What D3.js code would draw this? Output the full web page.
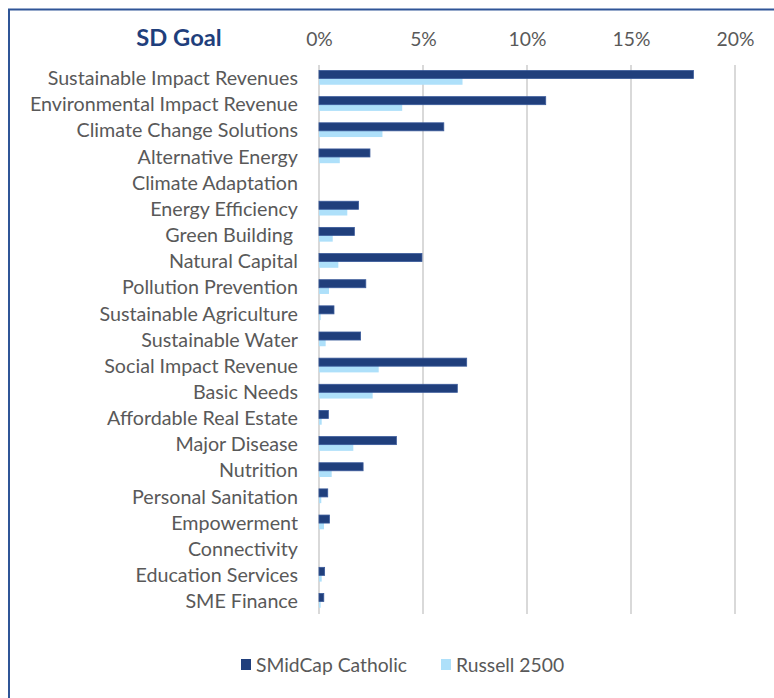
<!DOCTYPE html>
<html>
<head>
<meta charset="utf-8">
<script src="https://cdn.jsdelivr.net/npm/d3@7"></script>
<style>
  html, body { margin: 0; padding: 0; background: #fff; }
  svg { display: block; }
</style>
</head>
<body>
<svg id="chart" width="774" height="698"></svg>
<script>
const categories = [
  "Sustainable Impact Revenues", "Environmental Impact Revenue", "Climate Change Solutions",
  "Alternative Energy", "Climate Adaptation", "Energy Efficiency", "Green Building\u00a0",
  "Natural Capital", "Pollution Prevention", "Sustainable Agriculture", "Sustainable Water",
  "Social Impact Revenue", "Basic Needs", "Affordable Real Estate", "Major Disease",
  "Nutrition", "Personal Sanitation", "Empowerment", "Connectivity",
  "Education Services", "SME Finance"
];
const smidcapCatholic = [18.0, 10.9, 6.0, 2.45, 0, 1.9, 1.7, 4.95, 2.25, 0.72, 2.0,
  7.1, 6.65, 0.45, 3.72, 2.12, 0.42, 0.5, 0, 0.27, 0.23];
const russell2500 = [6.9, 4.0, 3.05, 1.0, 0, 1.36, 0.66, 0.93, 0.48, 0.08, 0.32,
  2.87, 2.58, 0.13, 1.65, 0.61, 0.11, 0.24, 0, 0.13, 0.08];
const seriesNames = ["SMidCap Catholic", "Russell 2500"];
const tickValues = [0, 5, 10, 15, 20];

const colors = ["#203f7c", "#aee0fa"];
const FONT = "Lato, 'Open Sans', sans-serif";
const FS = 19.3;
const svg = d3.select("#chart");

// border
svg.append("rect").attr("x", 9).attr("y", 9.5).attr("width", 800).attr("height", 800)
  .attr("fill", "none").attr("stroke", "#2f5597").attr("stroke-width", 2);

const x = d3.scaleLinear().domain([0, 20]).range([319, 735]);
const y = d3.scaleBand().domain(categories).range([65, 65 + 26.15 * categories.length]).paddingInner(0.42).paddingOuter(0.21);

// gridlines
svg.append("g").selectAll("line").data(tickValues).join("line")
  .attr("x1", d => x(d)).attr("x2", d => x(d))
  .attr("y1", 65).attr("y2", 614)
  .attr("stroke", "#d9d9d9").attr("stroke-width", 2);

// top axis
const axis = d3.axisTop(x).tickValues(tickValues).tickFormat(d => d + "%").tickSize(0).tickPadding(0);
const gAxis = svg.append("g").attr("transform", "translate(0,46)").call(axis);
gAxis.select(".domain").remove();
gAxis.selectAll("text").attr("font-family", FONT).attr("font-size", FS).attr("fill", "#595959");

// title
svg.append("text").attr("x", 179).attr("y", 46).attr("text-anchor", "middle")
  .attr("font-family", FONT).attr("font-weight", "bold").attr("font-size", 23.7)
  .attr("fill", "#1f3f7c").text("SD Goal");

// category labels
const yAxis = d3.axisLeft(y).tickSize(0).tickPadding(0);
const gY = svg.append("g").attr("transform", "translate(298,0)").call(yAxis);
gY.select(".domain").remove();
gY.selectAll("text").attr("font-family", FONT).attr("font-size", 19.7).attr("fill", "#595959").attr("dy", "0.36em");

// bars
const bw = y.bandwidth();
const dh = bw * 0.53, lh = bw - dh;
svg.append("g").selectAll("rect").data(categories).join("rect")
  .attr("x", x(0)).attr("y", d => y(d) + lh)
  .attr("width", (d, i) => x(russell2500[i]) - x(0)).attr("height", lh)
  .attr("fill", colors[1]);
svg.append("g").selectAll("rect").data(categories).join("rect")
  .attr("x", x(0)).attr("y", d => y(d))
  .attr("width", (d, i) => x(smidcapCatholic[i]) - x(0)).attr("height", dh)
  .attr("fill", colors[0]).attr("stroke", "#3a5a9a").attr("stroke-width", 0.8)
  .attr("display", (d, i) => smidcapCatholic[i] > 0 ? null : "none");

// legend
const legendX = [241, 441];
const lg = svg.append("g").selectAll("g").data(seriesNames).join("g")
  .attr("transform", (d, i) => `translate(${legendX[i]},659)`);
lg.append("rect").attr("width", 10).attr("height", 11).attr("fill", (d, i) => colors[i]);
lg.append("text").attr("x", 15).attr("y", 6).attr("dy", "0.35em")
  .attr("font-family", FONT).attr("font-size", FS).attr("fill", "#595959").text(d => d);
</script>
</body>
</html>
